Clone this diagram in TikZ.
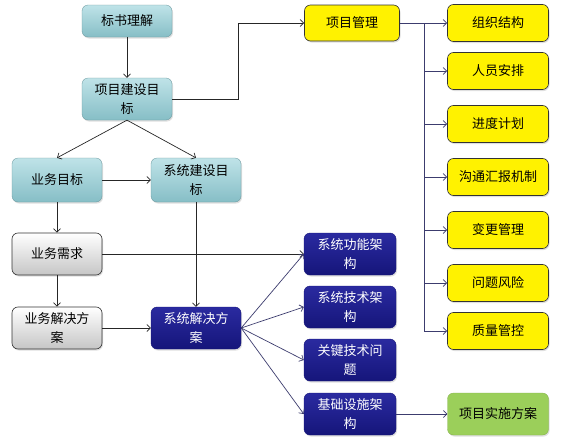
\documentclass[tikz,border=0pt]{standalone}
\usepackage{fontspec}
\setmainfont{Noto Sans CJK SC}
\usetikzlibrary{arrows.meta,shadows}
\begin{document}
\begin{tikzpicture}[x=1pt,y=-1pt,
  box/.style={rounded corners=6pt, align=center, inner sep=0pt,
    font=\fontsize{13}{19}\selectfont,
    drop shadow={opacity=0.25, shadow xshift=1pt, shadow yshift=-1.5pt}},
  tealbox/.style={box, top color=tealTop, bottom color=tealBot, draw=tealBot!80!black, line width=0.3pt,
    minimum width=90pt, minimum height=42pt},
  graybox/.style={box, top color=white, bottom color=gray!45, draw=black!80, line width=0.6pt,
    minimum width=90pt, minimum height=42pt},
  bluebox/.style={box, top color=navyTop, bottom color=navyBot, draw=navyBot, text=white,
    minimum width=92pt, minimum height=42pt},
  yelbox/.style={box, fill=yellow, draw=black!80, line width=0.6pt,
    minimum width=101pt, minimum height=37pt},
  greenbox/.style={box, fill=greenF, draw=greenF!85!black, line width=0.3pt,
    minimum width=101pt, minimum height=42pt},
  arr/.style={-{Straight Barb[length=3.5pt,width=7pt]}, line width=0.7pt, draw=black!85},
  navyarr/.style={arr, draw=navyLine},
  navyline/.style={line width=0.7pt, draw=navyLine}
]
\definecolor{tealTop}{HTML}{BFE3E8}
\definecolor{tealBot}{HTML}{86BEC6}
\definecolor{navyTop}{HTML}{2A2AA0}
\definecolor{navyBot}{HTML}{15157A}
\definecolor{greenF}{HTML}{9BCF5A}
\definecolor{navyLine}{HTML}{3C3C6E}
\useasboundingbox[fill=white] (0,0) rectangle (563,442);

% left / center column
\node[tealbox, minimum height=32pt] (bs) at (127,21) {标书理解};
\node[tealbox] (xm) at (127,99) {项目建设目\\标};
\node[tealbox, minimum height=44pt] (yw) at (57,180) {业务目标};
\node[tealbox, minimum height=44pt] (xt) at (196,180) {系统建设目\\标};
\node[graybox] (xq) at (57,254) {业务需求};
\node[graybox] (jf) at (57,328) {业务解决方\\案};
\node[bluebox, minimum width=90pt] (xj) at (196,328) {系统解决方\\案};

% project management
\node[yelbox, minimum width=95pt, minimum height=36pt] (pm) at (352,23) {项目管理};
\node[yelbox] (y1) at (498,23) {组织结构};
\node[yelbox] (y2) at (498,71) {人员安排};
\node[yelbox] (y3) at (498,124) {进度计划};
\node[yelbox] (y4) at (498,177) {沟通汇报机制};
\node[yelbox] (y5) at (498,230) {变更管理};
\node[yelbox] (y6) at (498,283) {问题风险};
\node[yelbox] (y7) at (498,331) {质量管控};

% architecture
\node[bluebox] (b1) at (350,254) {系统功能架\\构};
\node[bluebox] (b2) at (350,307) {系统技术架\\构};
\node[bluebox] (b3) at (350,360) {关键技术问\\题};
\node[bluebox] (b4) at (350,414) {基础设施架\\构};
\node[greenbox] (gs) at (498,414) {项目实施方案};

\coordinate (bus) at (424,23);
\coordinate (turn) at (238,99);

% connectors
\draw[arr] (bs) -- (xm);
\draw[arr] (xm.east) -- (turn) |- (pm.west);
\draw[arr] (xm.south) -- (yw.north);
\draw[arr] (xm.south) -- (xt.north);
\draw[arr] (yw) -- (xt);
\draw[arr] (yw) -- (xq);
\draw[arr] (xt) -- (xj);
\draw[arr] (xq) -- (jf);
\draw[arr] (jf) -- (xj);
\draw[arr] (xq.east) -- (b1.west);

\draw[navyarr] (xj.east) -- (b1.west);
\draw[navyarr] (xj.east) -- (b2.west);
\draw[navyarr] (xj.east) -- (b3.west);
\draw[navyarr] (xj.east) -- (b4.west);
\draw[navyarr] (b4) -- (gs);

\draw[navyline] (pm.east) -- (bus) -- (bus |- y7.west);
\draw[navyarr] (bus) -- (y1.west);
\foreach \n in {y2,y3,y4,y5,y6,y7}
  \draw[navyarr] (bus |- \n.west) -- (\n.west);
\end{tikzpicture}
\end{document}
